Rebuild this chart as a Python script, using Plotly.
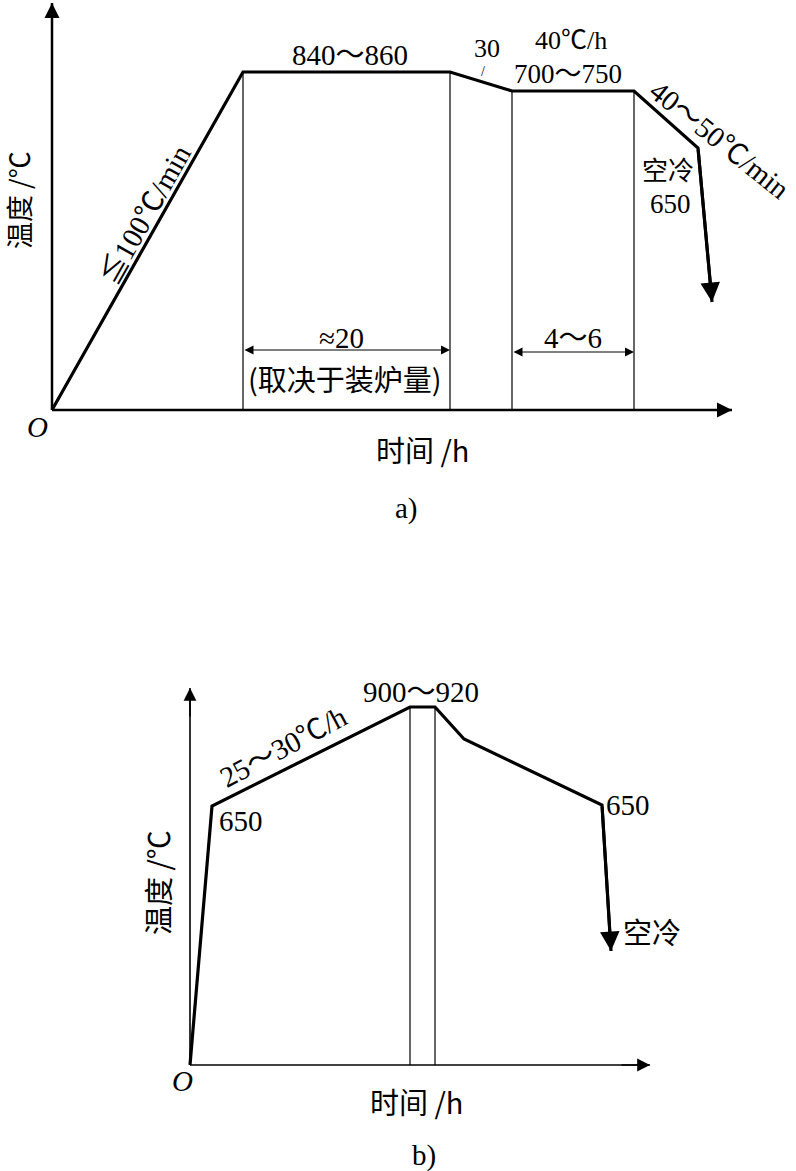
import plotly.graph_objects as go

# ---------------- Panel a) schematic process (time units, temperature level units) ----------------
a_time = [0.0, 19.1, 39.8, 46.0, 58.2, 64.6, 66.0]
a_temp = [0.0, 33.8, 33.8, 31.9, 31.9, 26.2, 10.8]
a_guides = [19.1, 39.8, 46.0, 58.2]          # vertical stage boundaries
a_guide_tops = [33.8, 33.8, 31.9, 31.9]
a_axis_x_end = 68.0
a_axis_y_end = 40.7
a_dims = [(19.1, 39.8, 6.0), (46.0, 58.2, 5.8)]

# ---------------- Panel b) ----------------
b_time = [0.0, 2.2, 22.0, 24.5, 27.4, 41.2, 42.1]
b_temp = [0.0, 25.9, 35.8, 35.8, 32.6, 26.0, 11.4]
b_guides = [22.0, 24.5]
b_guide_tops = [35.8, 35.8]
b_axis_x_end = 46.0
b_axis_y_end = 37.7

W, H = 796, 1171
SERIF = "Liberation Serif, Times New Roman, Noto Sans CJK SC"
CJK = "Noto Sans CJK SC, Liberation Serif"
NUM = 29
ZH = 29

fig = go.Figure()

def line(xs, ys, w, sub):
    xa, ya = ("x", "y") if sub == 1 else ("x2", "y2")
    fig.add_trace(go.Scatter(x=xs, y=ys, mode="lines", line=dict(color="black", width=w),
                             xaxis=xa, yaxis=ya, hoverinfo="skip", showlegend=False))

ann = []
def arrow(x0, y0, x1, y1, sub, w=2, head=2, size=1.2, both=False):
    xr, yr = ("x", "y") if sub == 1 else ("x2", "y2")
    ann.append(dict(x=x1, y=y1, ax=x0, ay=y0, xref=xr, yref=yr, axref=xr, ayref=yr,
                    text="", showarrow=True, arrowhead=head, arrowsize=size, arrowwidth=w,
                    arrowcolor="black", standoff=0, startstandoff=0,
                    arrowside="end+start" if both else "end",
                    startarrowhead=head, startarrowsize=size))

def text(x, y, s, sub, size=NUM, font=SERIF, angle=0):
    xr, yr = ("x", "y") if sub == 1 else ("x2", "y2")
    ann.append(dict(x=x, y=y, xref=xr, yref=yr, text=s, showarrow=False, textangle=angle,
                    font=dict(family=font, size=size, color="black"),
                    xanchor="center", yanchor="middle"))

# ----- panel a -----
line([0, a_axis_x_end], [0, 0], 2.5, 1)
line([0, 0], [0, a_axis_y_end], 2.5, 1)
arrow(a_axis_x_end - 3, 0, a_axis_x_end, 0, 1, w=2, head=2, size=1.5)
arrow(0, a_axis_y_end - 3, 0, a_axis_y_end, 1, w=2, head=2, size=1.5)
for gx, gt in zip(a_guides, a_guide_tops):
    line([gx, gx], [0, gt], 1.2, 1)
line(a_time, a_temp, 3.2, 1)
arrow(a_time[-2], a_temp[-2], a_time[-1], a_temp[-1], 1, w=3, head=2, size=1.3)
for x0, x1, yy in a_dims:
    arrow(x0, yy, x1, yy, 1, w=1, head=2, size=1.8, both=True)

text(29.8, 35.5, "840～860", 1)
text(43.5, 36.2, "30", 1, size=26)
text(43.1, 33.9, "/", 1, size=14)
text(51.9, 37.0, "40℃/h", 1, size=26)
text(51.6, 33.6, "700～750", 1, size=27)
text(66.8, 27.0, "40～50℃/min", 1, angle=38.7)
text(61.6, 24.2, "空冷", 1, size=26, font=CJK)
text(61.8, 20.6, "650", 1, size=27)
text(9.3, 19.5, "≦100℃/min", 1, angle=-60.5)
text(-3.4, 21.0, "温度 /℃", 1, size=27, font=CJK, angle=-90)
text(28.9, 7.2, "≈20", 1)
text(29.3, 3.2, "(取决于装炉量)", 1, size=ZH, font=CJK)
text(52.1, 7.2, "4～6", 1)
text(-1.5, -1.7, "<i>O</i>", 1, size=29)
text(37.0, -3.9, "时间 /h", 1, size=ZH, font=CJK)
text(35.4, -9.8, "a)", 1)

# ----- panel b -----
line([0, b_axis_x_end], [0, 0], 1.6, 2)
line([0, 0], [0, b_axis_y_end], 1.6, 2)
arrow(b_axis_x_end - 3, 0, b_axis_x_end, 0, 2, w=1.6, head=2, size=1.6)
arrow(0, b_axis_y_end - 3, 0, b_axis_y_end, 2, w=1.6, head=2, size=1.6)
for gx, gt in zip(b_guides, b_guide_tops):
    line([gx, gx], [0, gt], 1.2, 2)
line(b_time, b_temp, 3.2, 2)
arrow(b_time[-2], b_temp[-2], b_time[-1], b_temp[-1], 2, w=3, head=2, size=1.3)

text(23.1, 37.3, "900～920", 2)
text(9.3, 31.8, "25～30℃/h", 2, angle=-28)
text(5.1, 24.4, "650", 2)
text(43.8, 26.0, "650", 2)
text(46.2, 13.4, "空冷", 2, size=ZH, font=CJK)
text(-3.3, 18.2, "温度 /℃", 2, size=ZH, font=CJK, angle=-90)
text(-0.8, -1.6, "<i>O</i>", 2, size=29)
text(22.6, -3.6, "时间 /h", 2, size=ZH, font=CJK)
text(23.4, -9.0, "b)", 2)

ax_common = dict(visible=False, showgrid=False, zeroline=False, domain=[0, 1])
fig.update_layout(
    width=W, height=H, autosize=False,
    margin=dict(l=0, r=0, t=0, b=0),
    paper_bgcolor="white", plot_bgcolor="rgba(0,0,0,0)",
    showlegend=False,
    xaxis=dict(range=[-5.2, 74.4], anchor="y", **ax_common),
    yaxis=dict(range=[-76.1, 41.0], anchor="x", **ax_common),
    xaxis2=dict(range=[-19.0, 60.6], anchor="y2", overlaying="x", **ax_common),
    yaxis2=dict(range=[-10.6, 106.5], anchor="x2", overlaying="y", **ax_common),
    annotations=ann,
)

fig.write_html(
    "out.html",
    config={"displayModeBar": False},
    post_script="document.body.style.margin='0';document.body.style.overflow='hidden';",
)
